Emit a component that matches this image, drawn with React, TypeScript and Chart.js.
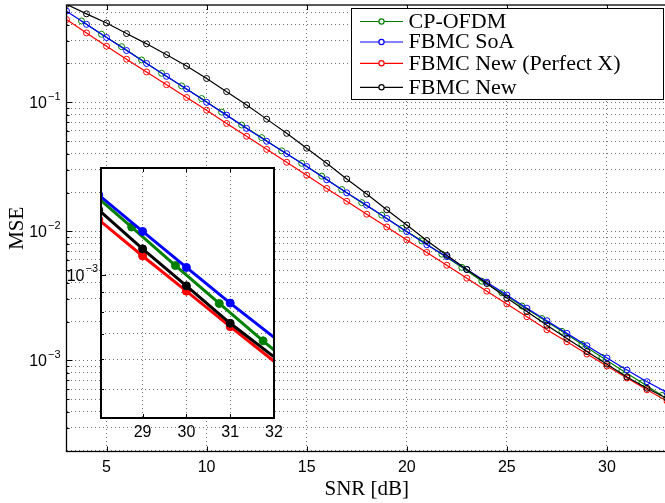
import React, { useEffect, useRef } from "react";
import { Chart, registerables } from "chart.js";

Chart.register(...registerables);

// ---------- data ----------
const snr = [3, 4, 5, 6, 7, 8, 9, 10, 11, 12, 13, 14, 15, 16, 17, 18, 19, 20, 21, 22, 23, 24, 25, 26, 27, 28, 29, 30, 31, 32, 33];
const snrOfdm = [3.75, 4.75, 5.75, 6.75, 7.75, 8.75, 9.75, 10.75, 11.75, 12.75, 13.75, 14.75, 15.75, 16.75, 17.75, 18.75, 19.75, 20.75, 21.75, 22.75, 23.75, 24.75, 25.75, 26.75, 27.75, 28.75, 29.75, 30.75, 31.75, 32.75];

const mseCpOfdm = [0.427, 0.337, 0.27, 0.213, 0.168, 0.134, 0.107, 0.084, 0.0667, 0.0533, 0.0421, 0.0337, 0.0268, 0.0211, 0.0167, 0.01336, 0.01055, 0.00844, 0.00666, 0.00526, 0.00411, 0.00334, 0.00264, 0.00211, 0.00168, 0.001335, 0.001057, 0.00084, 0.00067, 0.000535];
const mseFbmcSoa = [0.509, 0.402, 0.318, 0.252, 0.2, 0.159, 0.127, 0.1, 0.0796, 0.0628, 0.0499, 0.04, 0.0318, 0.0251, 0.0199, 0.01596, 0.01259, 0.00995, 0.00787, 0.00637, 0.00507, 0.00404, 0.00321, 0.00254, 0.00203, 0.00162, 0.0013, 0.001045, 0.000842, 0.000684, 0.000565];
const mseFbmcNewPerfect = [0.438, 0.345, 0.272, 0.216, 0.172, 0.137, 0.109, 0.0869, 0.0686, 0.0546, 0.0432, 0.0343, 0.0272, 0.0215, 0.0171, 0.01358, 0.01082, 0.00859, 0.00687, 0.00546, 0.00434, 0.00344, 0.00274, 0.00218, 0.00173, 0.001395, 0.00112, 0.000905, 0.00073, 0.000592, 0.000484];
const mseFbmcNew = [0.575, 0.485, 0.412, 0.341, 0.284, 0.234, 0.191, 0.153, 0.121, 0.0955, 0.0741, 0.0575, 0.0441, 0.0337, 0.0255, 0.01945, 0.01469, 0.01119, 0.00849, 0.00652, 0.00506, 0.00394, 0.00304, 0.00239, 0.00187, 0.00148, 0.00117, 0.000935, 0.000745, 0.000608, 0.000508];

const seriesLabels = ["CP-OFDM", "FBMC SoA", "FBMC New (Perfect X)", "FBMC New"];
const seriesColors = ["#008000", "#0000ff", "#ff0000", "#000000"];

const xTicks = [5, 10, 15, 20, 25, 30];
const yTickExponents = [-3, -2, -1];
const xRange = [3, 33];
const yRange = [1.968e-4, 0.568];

const insetXTicks = [29, 30, 31, 32];
const insetYTickExponents = [-3];
const insetXRange = [28.05, 32];
const insetYRange = [4.197e-4, 1.909e-3];

const xTitle = "SNR [dB]";
const yTitle = "MSE";

// ---------- helpers ----------
const SANS = "'Liberation Sans', Arial, sans-serif";
const SERIF = "'Liberation Serif', 'Times New Roman', serif";
const GRID = "rgba(0,0,0,0.55)";

function pts(xs: number[], ys: number[]) {
  return xs.map((x, i) => ({ x, y: ys[i] }));
}
function logGridValues(min: number, max: number) {
  const out: number[] = [];
  for (let e = Math.floor(Math.log10(min)); e <= Math.ceil(Math.log10(max)); e++) {
    for (let m = 1; m <= 9; m++) {
      const v = Number((m * Math.pow(10, e)).toPrecision(6));
      if (v >= min && v <= max) out.push(v);
    }
  }
  return out;
}
function isPow10(v: number) {
  const l = Math.log10(v);
  return Math.abs(l - Math.round(l)) < 1e-6;
}
function drawPow(ctx: CanvasRenderingContext2D, xRight: number, y: number, exp: number) {
  const base = "10";
  const sup = "\u2212" + Math.abs(exp);
  ctx.font = `16px ${SANS}`;
  const wb = ctx.measureText(base).width;
  ctx.font = `11px ${SANS}`;
  const ws = ctx.measureText(sup).width;
  const x0 = xRight - wb - ws - 1;
  ctx.textAlign = "left";
  ctx.textBaseline = "middle";
  ctx.font = `16px ${SANS}`;
  ctx.fillText(base, x0, y + 1.5);
  ctx.font = `11px ${SANS}`;
  ctx.fillText(sup, x0 + wb + 1, y - 5.5);
}

function seriesData() {
  return [
    pts(snrOfdm, mseCpOfdm),
    pts(snr, mseFbmcSoa),
    pts(snr, mseFbmcNewPerfect),
    pts(snr, mseFbmcNew),
  ];
}

// ---------- plugins ----------
const mainDecor = {
  id: "mainDecor",
  afterDraw(chart: any) {
    const { ctx, chartArea: a, scales } = chart;
    const xs = scales.x;
    const ys = scales.y;
    ctx.save();
    ctx.strokeStyle = "#000";
    ctx.lineWidth = 1;
    ctx.beginPath();
    for (const t of xTicks) {
      const px = Math.round(xs.getPixelForValue(t)) + 0.5;
      ctx.moveTo(px, a.bottom);
      ctx.lineTo(px, a.bottom - 5);
      ctx.moveTo(px, a.top);
      ctx.lineTo(px, a.top + 5);
    }
    for (const t of ys.ticks) {
      const py = Math.round(ys.getPixelForValue(t.value)) + 0.5;
      const len = isPow10(t.value) ? 6 : 3;
      ctx.moveTo(a.left, py);
      ctx.lineTo(a.left + len, py);
    }
    ctx.stroke();
    ctx.lineWidth = 1.3;
    ctx.strokeRect(a.left, a.top, a.right - a.left, a.bottom - a.top);

    // tick labels
    ctx.fillStyle = "#000";
    ctx.font = `16px ${SANS}`;
    ctx.textAlign = "center";
    ctx.textBaseline = "middle";
    for (const t of xTicks) {
      ctx.fillText(String(t), xs.getPixelForValue(t), a.bottom + 16);
    }
    for (const e of yTickExponents) {
      drawPow(ctx, a.left - 6, ys.getPixelForValue(Math.pow(10, e)), e);
    }

    // axis titles
    ctx.font = `21px ${SERIF}`;
    ctx.textAlign = "center";
    ctx.textBaseline = "middle";
    ctx.fillText(xTitle, (xs.getPixelForValue(xRange[0]) + xs.getPixelForValue(xRange[1])) / 2, 489);
    ctx.save();
    ctx.translate(17.5, (a.top + a.bottom) / 2);
    ctx.rotate(-Math.PI / 2);
    ctx.fillText(yTitle, 0, 0);
    ctx.restore();

    // legend
    const bx = 351.5, by = 8.5, bw = 312, bh = 91;
    ctx.fillStyle = "#fff";
    ctx.fillRect(bx, by, bw, bh);
    ctx.strokeStyle = "#000";
    ctx.lineWidth = 1;
    ctx.strokeRect(bx, by, bw, bh);
    const rows = [21.5, 42, 63.3, 87.3];
    chart.data.datasets.forEach((ds: any, i: number) => {
      const y = rows[i];
      ctx.strokeStyle = ds.borderColor;
      ctx.lineWidth = 1.2;
      ctx.beginPath();
      ctx.moveTo(360, y);
      ctx.lineTo(403, y);
      ctx.stroke();
      ctx.beginPath();
      ctx.fillStyle = "#fff";
      ctx.arc(381.5, y, 2.6, 0, Math.PI * 2);
      ctx.fill();
      ctx.stroke();
      ctx.fillStyle = "#000";
      ctx.font = `22px ${SERIF}`;
      ctx.textAlign = "left";
      ctx.textBaseline = "middle";
      ctx.fillText(ds.label, 408.5, y + 0.5);
    });
    ctx.restore();
  },
};

const insetDecor = {
  id: "insetDecor",
  beforeDraw(chart: any) {
    const { ctx, chartArea: a } = chart;
    ctx.save();
    ctx.fillStyle = "#fff";
    ctx.fillRect(a.left, a.top, a.right - a.left, a.bottom - a.top);
    ctx.restore();
  },
  afterDraw(chart: any) {
    const { ctx, chartArea: a, scales } = chart;
    const xs = scales.x;
    const ys = scales.y;
    ctx.save();
    ctx.strokeStyle = "#000";
    ctx.lineWidth = 1;
    ctx.beginPath();
    for (const t of insetXTicks) {
      const px = Math.round(xs.getPixelForValue(t)) + 0.5;
      ctx.moveTo(px, a.bottom);
      ctx.lineTo(px, a.bottom - 4);
      ctx.moveTo(px, a.top);
      ctx.lineTo(px, a.top + 4);
    }
    for (const t of ys.ticks) {
      const py = Math.round(ys.getPixelForValue(t.value)) + 0.5;
      const len = isPow10(t.value) ? 5 : 3;
      ctx.moveTo(a.left, py);
      ctx.lineTo(a.left + len, py);
    }
    ctx.stroke();
    ctx.lineWidth = 2;
    ctx.strokeRect(a.left, a.top, a.right - a.left, a.bottom - a.top);
    ctx.fillStyle = "#000";
    ctx.font = `16px ${SANS}`;
    ctx.textAlign = "center";
    ctx.textBaseline = "middle";
    for (const t of insetXTicks) {
      ctx.fillText(String(t), xs.getPixelForValue(t), a.bottom + 15);
    }
    for (const e of insetYTickExponents) {
      drawPow(ctx, a.left - 3, ys.getPixelForValue(Math.pow(10, e)), e);
    }
    ctx.restore();
  },
};

function axisCommon() {
  return {
    ticks: { display: false },
    grid: { color: GRID, lineWidth: 1, drawTicks: false },
    border: { display: false, dash: [1, 3] },
  };
}

function mainConfig(): any {
  const data = seriesData();
  const yGrid = logGridValues(yRange[0], yRange[1]);
  return {
    type: "line",
    data: {
      datasets: data.map((d, i) => ({
        label: seriesLabels[i],
        data: d,
        borderColor: seriesColors[i],
        backgroundColor: seriesColors[i],
        borderWidth: 1.2,
        pointRadius: 3,
        pointBorderWidth: 1,
        pointBackgroundColor: "rgba(0,0,0,0)",
        pointBorderColor: seriesColors[i],
        tension: 0,
        fill: false,
        order: 4 - i,
      })),
    },
    options: {
      animation: false,
      responsive: false,
      devicePixelRatio: 1,
      events: [],
      layout: { padding: { left: 66.5, top: 0.5, right: 3, bottom: 51.5 } },
      plugins: { legend: { display: false }, tooltip: { enabled: false } },
      scales: {
        x: {
          type: "linear",
          min: xRange[0],
          max: xRange[1],
          afterBuildTicks: (s: any) => { s.ticks = xTicks.map((v) => ({ value: v })); },
          afterFit: (s: any) => { s.height = 0; },
          ...axisCommon(),
        },
        y: {
          type: "logarithmic",
          min: yRange[0],
          max: yRange[1],
          afterBuildTicks: (s: any) => { s.ticks = yGrid.map((v) => ({ value: v, major: isPow10(v) })); },
          afterFit: (s: any) => { s.width = 0; },
          ...axisCommon(),
        },
      },
    },
    plugins: [mainDecor],
  };
}

function insetConfig(): any {
  const data = seriesData();
  const yGrid = logGridValues(insetYRange[0], insetYRange[1]);
  return {
    type: "line",
    data: {
      datasets: data.map((d, i) => ({
        label: seriesLabels[i],
        data: d,
        borderColor: seriesColors[i],
        backgroundColor: seriesColors[i],
        borderWidth: 3,
        pointRadius: (c: any) => (c.raw && c.raw.x > 31.9 ? 0 : 4),
        pointBorderWidth: 1,
        pointBackgroundColor: seriesColors[i],
        pointBorderColor: seriesColors[i],
        tension: 0,
        fill: false,
        order: 4 - i,
      })),
    },
    options: {
      animation: false,
      responsive: false,
      devicePixelRatio: 1,
      events: [],
      layout: { padding: { left: 101, top: 168, right: 665 - 274, bottom: 503 - 418 } },
      plugins: { legend: { display: false }, tooltip: { enabled: false } },
      scales: {
        x: {
          type: "linear",
          min: insetXRange[0],
          max: insetXRange[1],
          afterBuildTicks: (s: any) => { s.ticks = insetXTicks.filter((v) => v < insetXRange[1]).map((v) => ({ value: v })); },
          afterFit: (s: any) => { s.height = 0; },
          ...axisCommon(),
        },
        y: {
          type: "logarithmic",
          min: insetYRange[0],
          max: insetYRange[1],
          afterBuildTicks: (s: any) => { s.ticks = yGrid.map((v) => ({ value: v, major: isPow10(v) })); },
          afterFit: (s: any) => { s.width = 0; },
          ...axisCommon(),
        },
      },
    },
    plugins: [insetDecor],
  };
}

export default function App() {
  const mainRef = useRef<HTMLCanvasElement>(null);
  const insetRef = useRef<HTMLCanvasElement>(null);
  useEffect(() => {
    const main = new Chart(mainRef.current as HTMLCanvasElement, mainConfig());
    const inset = new Chart(insetRef.current as HTMLCanvasElement, insetConfig());
    return () => {
      main.destroy();
      inset.destroy();
    };
  }, []);
  return (
    <div style={{ position: "fixed", left: 0, top: 0, width: 665, height: 503, overflow: "hidden", background: "#fff" }}>
      <canvas ref={mainRef} width={672} height={503} style={{ position: "absolute", left: 0, top: 0, width: 672, height: 503 }} />
      <canvas ref={insetRef} width={665} height={503} style={{ position: "absolute", left: 0, top: 0, width: 665, height: 503 }} />
    </div>
  );
}
